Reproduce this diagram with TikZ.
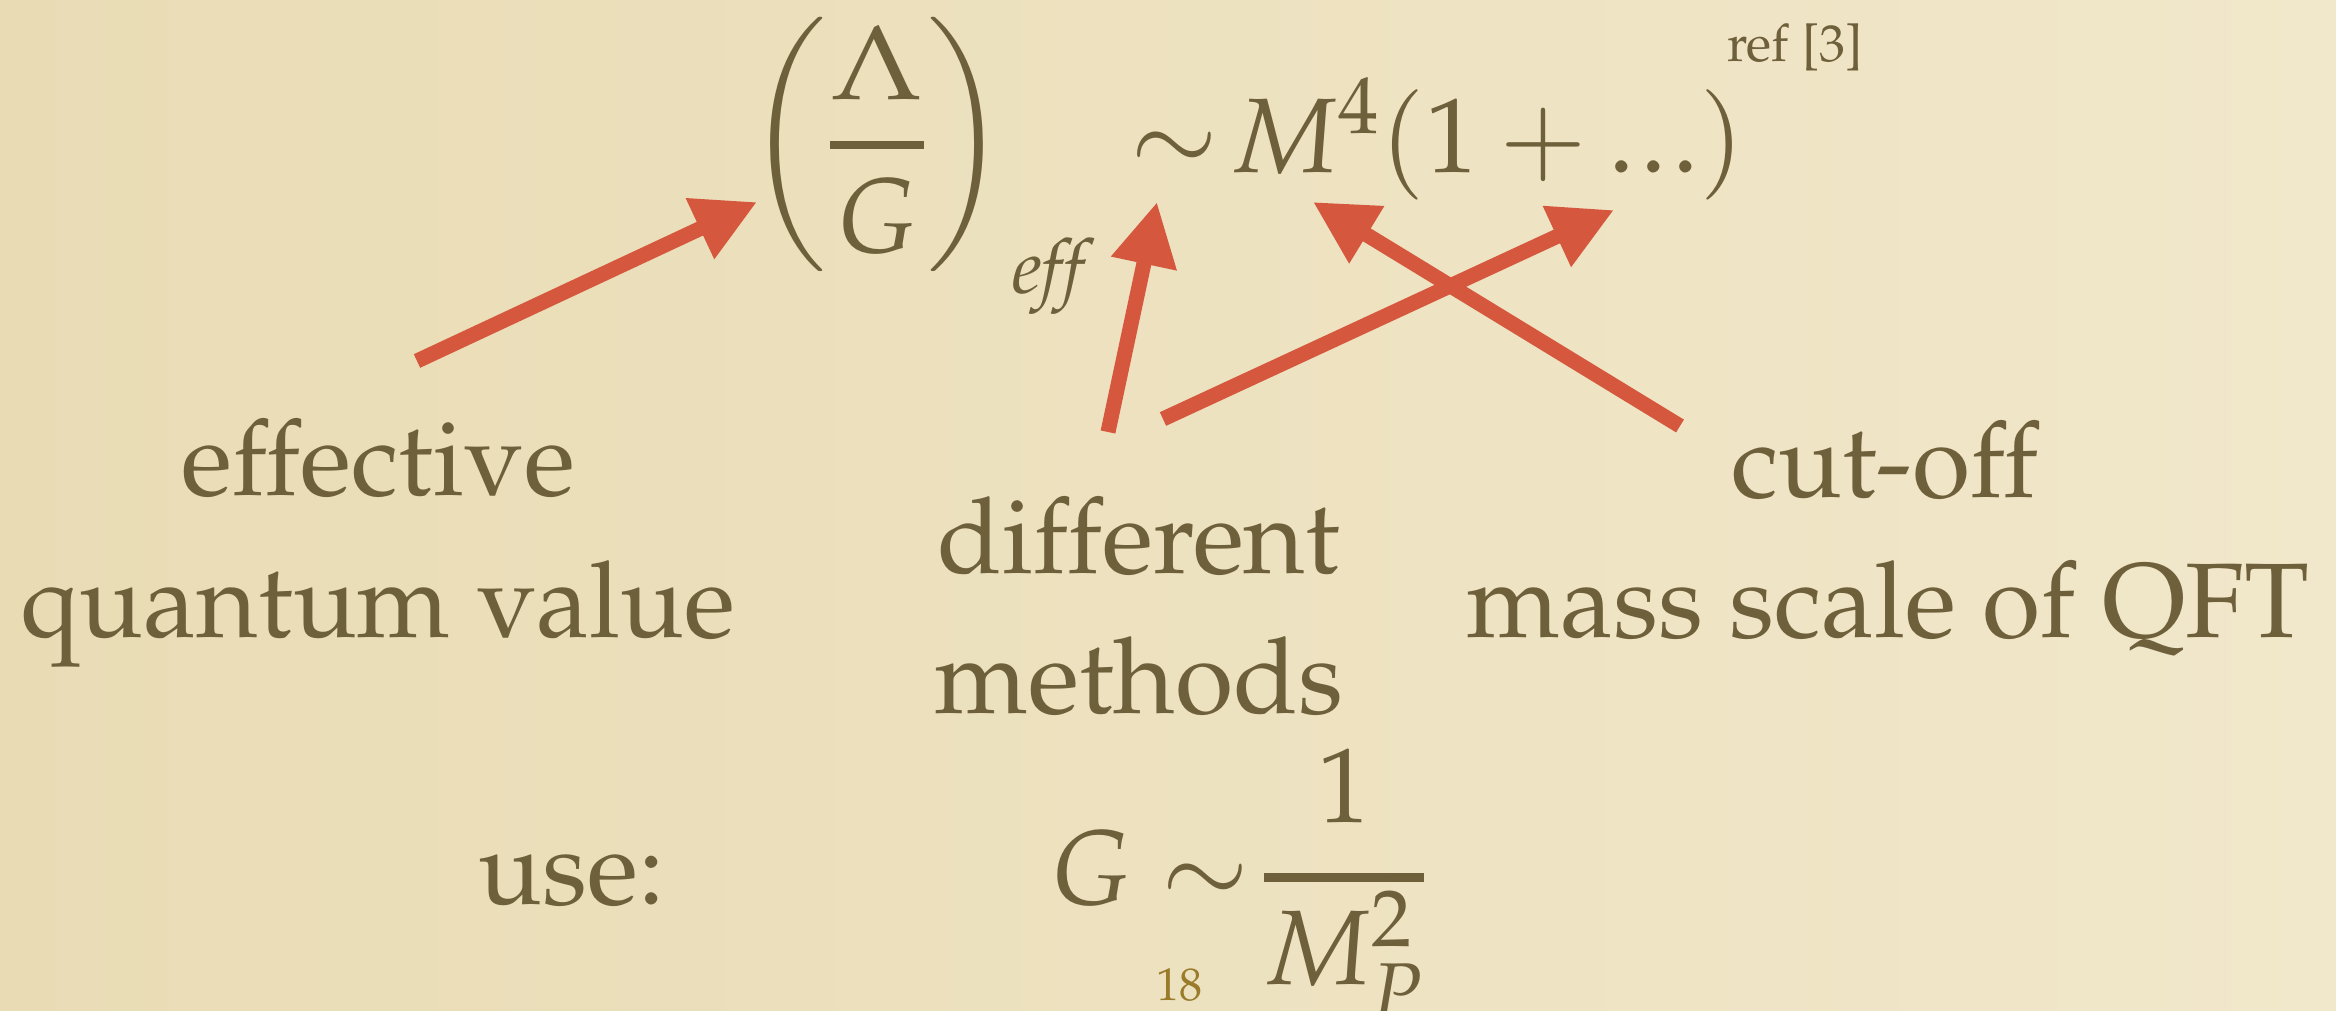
\documentclass[tikz,border=0pt]{standalone}
\usepackage{amsmath}
\usepackage[T1]{fontenc}
\usepackage{mathpazo}
\usetikzlibrary{arrows.meta}
\definecolor{bgL}{HTML}{E9DCB5}
\definecolor{bgR}{HTML}{F1E7CA}
\definecolor{ink}{HTML}{6F603C}
\definecolor{arrowred}{HTML}{D5573E}
\definecolor{pagenum}{HTML}{9A7B2A}
\begin{document}
\begin{tikzpicture}[x=0.5pt,y=-0.5pt,
  big/.style={text=ink, inner sep=0pt, font=\fontsize{53}{60}\selectfont},
  small/.style={text=ink, inner sep=0pt, font=\fontsize{26}{30}\selectfont},
  pointer/.style={draw=arrowred, line width=7.5pt, -{Triangle[length=31.5pt,width=31.5pt]}}]
\useasboundingbox (0,0) rectangle (2336,1011);
\shade[left color=bgL, right color=bgR] (0,0) rectangle (2336,1011);

% top formula
\node[big] (frac) at (877,145) {$\displaystyle\left(\genfrac{}{}{4pt}{0}{\scalebox{1.1}[1]{$\Lambda$}}{\raisebox{-4pt}{$G$}}\right)$};
\node[text=ink, inner sep=0pt, font=\fontsize{38}{42}\selectfont, anchor=base west] (eff) at (1012,293) {\textit{eff}};
\node[big, anchor=base west] (rhs) at (1130,172) {$\sim\mkern-3mu M^4(1+.\mkern1mu.\mkern1mu.)$};
\node[small, anchor=base] (ref) at (1795,62) {ref [3]};

% labels
\node[big, anchor=base] (effl) at (378,495) {effective};
\node[big, anchor=base] (qv) at (378,637) {quantum value};
\node[big, anchor=base] (diff) at (1139,573) {different};
\node[big, anchor=base] (meth) at (1139,713) {methods};
\node[big, anchor=base] (cut) at (1885,497) {cut-off};
\node[big, anchor=base] (mass) at (1888,637) {mass scale of QFT};

% bottom
\node[big, anchor=base] (use) at (572,904) {use:};
\node[big, anchor=base west] (gform) at (1050,904) {$\displaystyle G\sim\mkern-3mu\genfrac{}{}{4.5pt}{0}{\raisebox{5pt}{$1$}}{\smash{\raisebox{-4pt}{$M_P^2$}}}$};
\node[text=pagenum, inner sep=0pt, font=\fontsize{23}{26}\selectfont, anchor=base] (pg) at (1179,1000) {18};

% arrow end points
\coordinate (t1) at (417,361); \coordinate (h1) at (757,202);
\coordinate (t2) at (1108,432); \coordinate (h2) at (1157,202);
\coordinate (t3) at (1680,426); \coordinate (h3) at (1313,202);
\coordinate (t4) at (1163,419); \coordinate (h4) at (1614,210);

\draw[pointer] (t1) -- (h1);
\draw[pointer] (t2) -- (h2);
\draw[pointer] (t3) -- (h3);
\draw[pointer] (t4) -- (h4);
\end{tikzpicture}
\end{document}
